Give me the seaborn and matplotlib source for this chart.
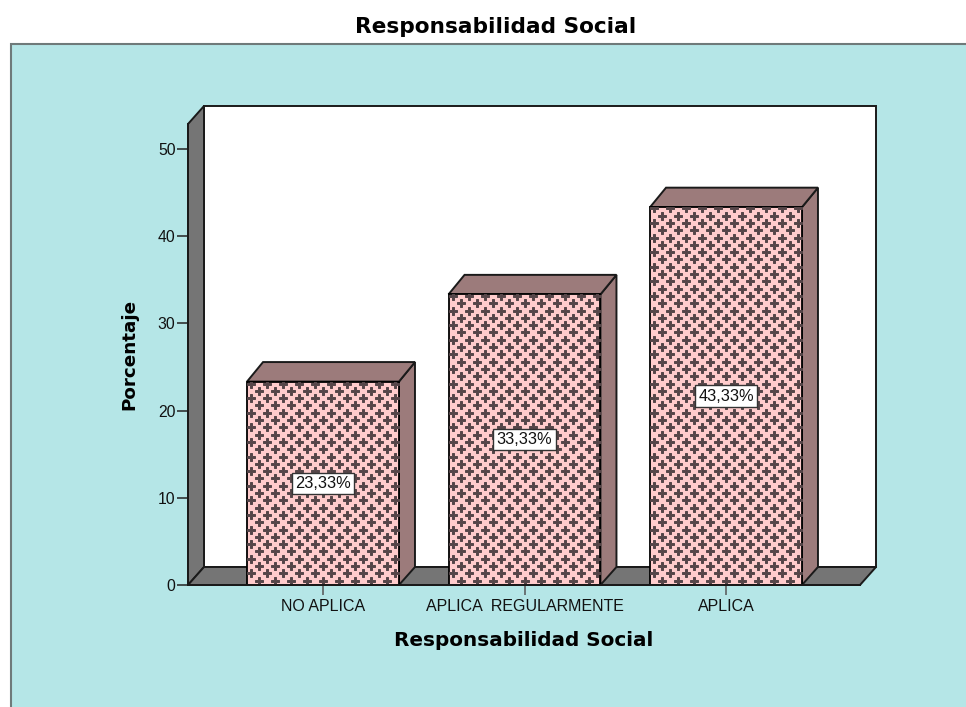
import numpy as np
import pandas as pd
import seaborn as sns
import matplotlib.pyplot as plt
from matplotlib.patches import Polygon, Rectangle

categories = ['NO APLICA', 'APLICA  REGULARMENTE', 'APLICA']
porcentaje = [23.33, 33.33, 43.33]
value_labels = ['23,33%', '33,33%', '43,33%']
y_ticks = [0, 10, 20, 30, 40, 50]

W, H = 966, 707
sns.set_style('white')
plt.rcParams['font.family'] = ['Liberation Sans', 'DejaVu Sans']
bold_font = ['DejaVu Sans']

fig = plt.figure(figsize=(W / 100, H / 100), dpi=100, facecolor='white')
# cyan panel, runs off the right and bottom edge of the image
fig.add_artist(Rectangle((11 / W, -0.01), 1, (H - 44) / H + 0.01, transform=fig.transFigure,
                         facecolor='#b5e6e7', edgecolor='#6f7a7a', linewidth=1.5, zorder=-1))
fig.text(496 / W, 1 - 27 / H, 'Responsabilidad Social', ha='center', va='center',
         fontsize=15.6, fontweight='bold', family=bold_font, color='black')

ax = fig.add_axes([188 / W, 1 - 585 / H, (860 - 188) / W, (585 - 124) / H])
ax.patch.set_alpha(0)

df = pd.DataFrame({'categoria': categories, 'porcentaje': porcentaje})
sns.barplot(data=df, x='categoria', y='porcentaje', color='#ffcccc', saturation=1, width=0.754,
            edgecolor='black', linewidth=1.3, ax=ax, zorder=3)

x_unit = 201.5
y_unit = 8.72
ax.set_xlim(-135 / x_unit, 2 + 134 / x_unit)
ax.set_ylim(0, 461 / y_unit)
dx = 16 / x_unit
dy = 18 / y_unit
bar_dy = 19.5 / y_unit
x0, x1 = ax.get_xlim()
y1 = ax.get_ylim()[1]

wall = '#757575'
side = '#9c7b7b'
edge = dict(edgecolor='#1a1a1a', linewidth=1.4, clip_on=False)
ax.add_patch(Rectangle((x0 + dx, dy), x1 - x0, y1, facecolor='white', zorder=0.5, **edge))
ax.add_patch(Polygon([(x0, 0), (x0 + dx, dy), (x0 + dx, y1 + dy), (x0, y1)], facecolor=wall, zorder=0.6, **edge))
ax.add_patch(Polygon([(x0, 0), (x1, 0), (x1 + dx, dy), (x0 + dx, dy)], facecolor=wall, zorder=0.6, **edge))

for bar, label in zip(ax.patches[:len(categories)], value_labels):
    bx0, bx1 = bar.get_x(), bar.get_x() + bar.get_width()
    top = bar.get_height()
    ax.add_patch(Polygon([(bx1, 0), (bx1 + dx, dy), (bx1 + dx, top + bar_dy), (bx1, top)],
                         facecolor=side, zorder=2.5, **edge))
    ax.add_patch(Polygon([(bx0, top), (bx1, top), (bx1 + dx, top + bar_dy), (bx0 + dx, top + bar_dy)],
                         facecolor=side, zorder=2.5, **edge))
    # staggered plus pattern of the fill
    sx, sy = 16 / x_unit, 7.3 / y_unit
    for row, yy in enumerate(np.arange(sy * 0.6, top, sy)):
        xx = np.arange(bx0 + (sx * 0.25 if row % 2 else sx * 0.75), bx1, sx)
        pts, = ax.plot(xx, np.full_like(xx, yy), ls='none', marker='P', ms=6, mew=0.7,
                       color='#554548', zorder=3.2)
        pts.set_clip_path(bar)
    ax.text(bx0 + bar.get_width() / 2, top / 2, label, ha='center', va='center', fontsize=11.8,
            color='#111111', zorder=5,
            bbox=dict(boxstyle='square,pad=0.2', facecolor='white', edgecolor='#333333', linewidth=1))

ax.set_yticks(y_ticks)
ax.tick_params(axis='y', direction='out', length=8, width=1.1, color='#222222',
               left=True, labelsize=11.3, labelcolor='#111111', pad=1)
ax.tick_params(axis='x', direction='out', length=7, width=1.1, color='#555555',
               bottom=True, labelsize=11.5, labelcolor='#111111', pad=3)
ax.set_xlabel('Responsabilidad Social', fontsize=14.4, fontweight='bold', family=bold_font,
              color='black', labelpad=12)
ax.set_ylabel('Porcentaje', fontsize=13.2, fontweight='bold', family=bold_font,
              color='black', labelpad=14)
for name in ['top', 'right']:
    ax.spines[name].set_visible(False)
for name in ['left', 'bottom']:
    ax.spines[name].set_color('#1a1a1a')
    ax.spines[name].set_linewidth(1.4)
    ax.spines[name].set_zorder(4)

fig.savefig('out.png', dpi=100, facecolor=fig.get_facecolor())
